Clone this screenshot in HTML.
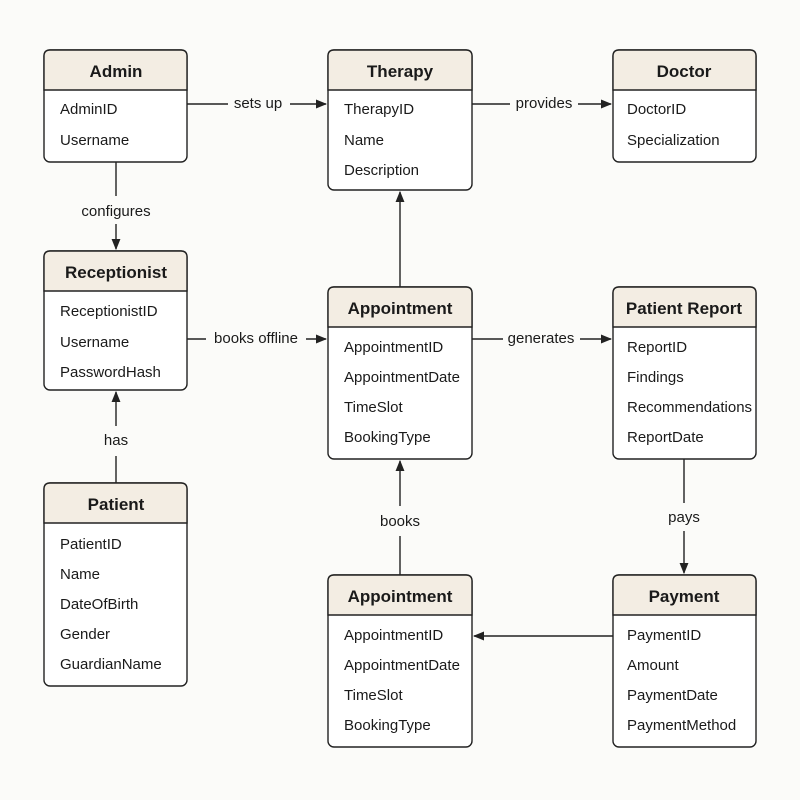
<!DOCTYPE html>
<html><head><meta charset="utf-8"><style>
html,body{margin:0;padding:0;background:#fbfbf9;}
svg{display:block;font-family:"Liberation Sans",sans-serif;}
.h{font-weight:bold;font-size:17px;fill:#1a1a1a;text-anchor:middle;}
.r{font-size:15px;fill:#1a1a1a;}
.l{font-size:15px;fill:#1a1a1a;text-anchor:middle;}
.ln{stroke:#222;stroke-width:1.4;fill:none;}
</style></head><body>
<svg width="800" height="800" viewBox="0 0 800 800">
<defs><marker id="a" viewBox="0 0 10 10" refX="9" refY="5" markerWidth="8" markerHeight="8" orient="auto"><path d="M0,1 L10,5 L0,9 z" fill="#222"/></marker></defs>
<rect width="800" height="800" fill="#fbfbf9"/>

<!-- connectors -->
<path class="ln" d="M187,104 H228"/><path class="ln" d="M290,104 H326" marker-end="url(#a)"/>
<text class="l" x="258" y="108">sets up</text>
<path class="ln" d="M472,104 H510"/><path class="ln" d="M578,104 H611" marker-end="url(#a)"/>
<text class="l" x="544" y="108">provides</text>
<path class="ln" d="M116,162 V196"/><path class="ln" d="M116,224 V249" marker-end="url(#a)"/>
<text class="l" x="116" y="216">configures</text>
<path class="ln" d="M187,339 H206"/><path class="ln" d="M306,339 H326" marker-end="url(#a)"/>
<text class="l" x="256" y="343">books offline</text>
<path class="ln" d="M400,287 V192" marker-end="url(#a)"/>
<path class="ln" d="M472,339 H503"/><path class="ln" d="M580,339 H611" marker-end="url(#a)"/>
<text class="l" x="541" y="343">generates</text>
<path class="ln" d="M116,483 V456"/><path class="ln" d="M116,426 V392" marker-end="url(#a)"/>
<text class="l" x="116" y="445">has</text>
<path class="ln" d="M400,575 V536"/><path class="ln" d="M400,506 V461" marker-end="url(#a)"/>
<text class="l" x="400" y="526">books</text>
<path class="ln" d="M684,459 V503"/><path class="ln" d="M684,531 V573" marker-end="url(#a)"/>
<text class="l" x="684" y="522">pays</text>
<path class="ln" d="M613,636 H474" marker-end="url(#a)"/>

<!-- boxes -->
<g id="boxes"></g>
<g>
<rect x="44" y="50" width="143" height="112" rx="6" fill="#fff" stroke="#222" stroke-width="1.4"/>
<path d="M50,50 H181 Q187,50 187,56 V90 H44 V56 Q44,50 50,50 z" fill="#f3ede3" stroke="#222" stroke-width="1.4"/>
<text class="h" x="116" y="77">Admin</text>
<text class="r" x="60" y="114">AdminID</text><text class="r" x="60" y="145">Username</text>

<rect x="328" y="50" width="144" height="140" rx="6" fill="#fff" stroke="#222" stroke-width="1.4"/>
<path d="M334,50 H466 Q472,50 472,56 V90 H328 V56 Q328,50 334,50 z" fill="#f3ede3" stroke="#222" stroke-width="1.4"/>
<text class="h" x="400" y="77">Therapy</text>
<text class="r" x="344" y="114">TherapyID</text><text class="r" x="344" y="145">Name</text><text class="r" x="344" y="175">Description</text>

<rect x="613" y="50" width="143" height="112" rx="6" fill="#fff" stroke="#222" stroke-width="1.4"/>
<path d="M619,50 H750 Q756,50 756,56 V90 H613 V56 Q613,50 619,50 z" fill="#f3ede3" stroke="#222" stroke-width="1.4"/>
<text class="h" x="684" y="77">Doctor</text>
<text class="r" x="627" y="114">DoctorID</text><text class="r" x="627" y="145">Specialization</text>

<rect x="44" y="251" width="143" height="139" rx="6" fill="#fff" stroke="#222" stroke-width="1.4"/>
<path d="M50,251 H181 Q187,251 187,257 V291 H44 V257 Q44,251 50,251 z" fill="#f3ede3" stroke="#222" stroke-width="1.4"/>
<text class="h" x="116" y="278">Receptionist</text>
<text class="r" x="60" y="316">ReceptionistID</text><text class="r" x="60" y="347">Username</text><text class="r" x="60" y="377">PasswordHash</text>

<rect x="328" y="287" width="144" height="172" rx="6" fill="#fff" stroke="#222" stroke-width="1.4"/>
<path d="M334,287 H466 Q472,287 472,293 V327 H328 V293 Q328,287 334,287 z" fill="#f3ede3" stroke="#222" stroke-width="1.4"/>
<text class="h" x="400" y="314">Appointment</text>
<text class="r" x="344" y="352">AppointmentID</text><text class="r" x="344" y="382">AppointmentDate</text><text class="r" x="344" y="412">TimeSlot</text><text class="r" x="344" y="442">BookingType</text>

<rect x="613" y="287" width="143" height="172" rx="6" fill="#fff" stroke="#222" stroke-width="1.4"/>
<path d="M619,287 H750 Q756,287 756,293 V327 H613 V293 Q613,287 619,287 z" fill="#f3ede3" stroke="#222" stroke-width="1.4"/>
<text class="h" x="684" y="314">Patient Report</text>
<text class="r" x="627" y="352">ReportID</text><text class="r" x="627" y="382">Findings</text><text class="r" x="627" y="412">Recommendations</text><text class="r" x="627" y="442">ReportDate</text>

<rect x="44" y="483" width="143" height="203" rx="6" fill="#fff" stroke="#222" stroke-width="1.4"/>
<path d="M50,483 H181 Q187,483 187,489 V523 H44 V489 Q44,483 50,483 z" fill="#f3ede3" stroke="#222" stroke-width="1.4"/>
<text class="h" x="116" y="510">Patient</text>
<text class="r" x="60" y="549">PatientID</text><text class="r" x="60" y="579">Name</text><text class="r" x="60" y="609">DateOfBirth</text><text class="r" x="60" y="639">Gender</text><text class="r" x="60" y="669">GuardianName</text>

<rect x="328" y="575" width="144" height="172" rx="6" fill="#fff" stroke="#222" stroke-width="1.4"/>
<path d="M334,575 H466 Q472,575 472,581 V615 H328 V581 Q328,575 334,575 z" fill="#f3ede3" stroke="#222" stroke-width="1.4"/>
<text class="h" x="400" y="602">Appointment</text>
<text class="r" x="344" y="640">AppointmentID</text><text class="r" x="344" y="670">AppointmentDate</text><text class="r" x="344" y="700">TimeSlot</text><text class="r" x="344" y="730">BookingType</text>

<rect x="613" y="575" width="143" height="172" rx="6" fill="#fff" stroke="#222" stroke-width="1.4"/>
<path d="M619,575 H750 Q756,575 756,581 V615 H613 V581 Q613,575 619,575 z" fill="#f3ede3" stroke="#222" stroke-width="1.4"/>
<text class="h" x="684" y="602">Payment</text>
<text class="r" x="627" y="640">PaymentID</text><text class="r" x="627" y="670">Amount</text><text class="r" x="627" y="700">PaymentDate</text><text class="r" x="627" y="730">PaymentMethod</text>
</g>
</svg>
</body></html>
